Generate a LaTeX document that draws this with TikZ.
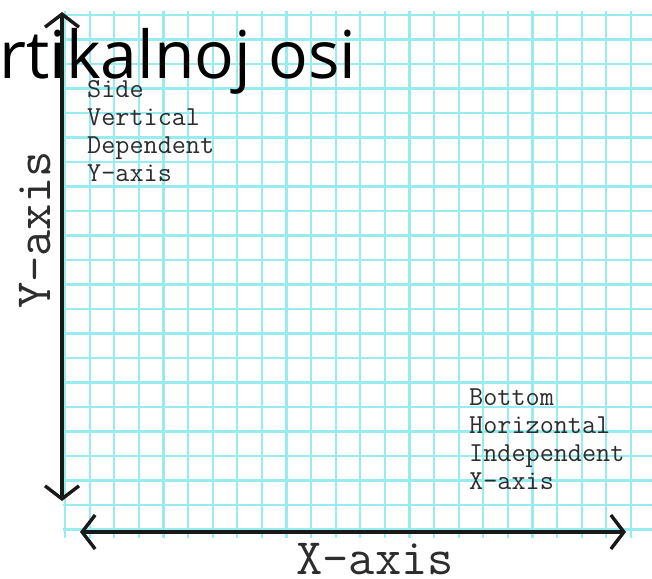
\documentclass[tikz,border=0pt]{standalone}
\usepackage{fontspec}
\newfontfamily\bigf{Open Sans}
\usetikzlibrary{arrows.meta}
\definecolor{gridc}{RGB}{150,236,238}
\definecolor{labc}{RGB}{45,45,45}
\tikzset{
  gridline/.style={draw=gridc, line width=2.2pt},
  axisline/.style={draw=black!90, line width=3.2pt,
    {Straight Barb[length=13pt,width=34pt,line width=3.4pt]}-{Straight Barb[length=13pt,width=34pt,line width=3.4pt]}},
  biglab/.style={font=\ttfamily\fontsize{51}{51}\selectfont, text=labc, inner sep=0pt, text depth=0pt},
  smalllab/.style={font=\ttfamily\fontsize{27.4}{27.4}\selectfont, text=labc, inner sep=0pt, anchor=base west},
  bigtitle/.style={font=\bigf\fontsize{66}{66}\selectfont, text=black, inner sep=0pt, anchor=base west}
}
\begin{document}
\begin{tikzpicture}[x=1pt,y=-1pt]
\useasboundingbox (0,0) rectangle (652,578);
\fill[white] (0,0) rectangle (652,578);
\begin{scope}
  \clip (63,12) rectangle (652,537);
  \foreach \i in {0,...,24} \draw[gridline] ({65+24.6*\i},0) -- ++(0,600);
  \foreach \j in {0,...,21} \draw[gridline] (0,{15+24.5*\j}) -- ++(700,0);
\end{scope}
% axes
\coordinate (ytop) at (62,12);
\coordinate (ybot) at (62,501);
\coordinate (xleft) at (80,532);
\coordinate (xright) at (626,532);
\draw[axisline] (ytop) -- (ybot);
\draw[axisline] (xleft) -- (xright);
% axis titles
\node[biglab, rotate=90, anchor=base] (ylabel) at (50,230) {Y-axis};
\node[biglab, anchor=base] (xlabel) at (375,574) {X-axis};
% side label
\node[smalllab] (s1) at (87,97) {Side};
\node[smalllab] (s2) at (87,125) {Vertical};
\node[smalllab] (s3) at (87,153) {Dependent};
\node[smalllab] (s4) at (87,181) {Y-axis};
% bottom label
\node[smalllab] (b1) at (469,405) {Bottom};
\node[smalllab] (b2) at (469,433) {Horizontal};
\node[smalllab] (b3) at (469,461) {Independent};
\node[smalllab] (b4) at (469,489) {X-axis};
% overlay title
\node[bigtitle] (title) at (-1,78) {rtikalnoj osi};
\end{tikzpicture}
\end{document}
